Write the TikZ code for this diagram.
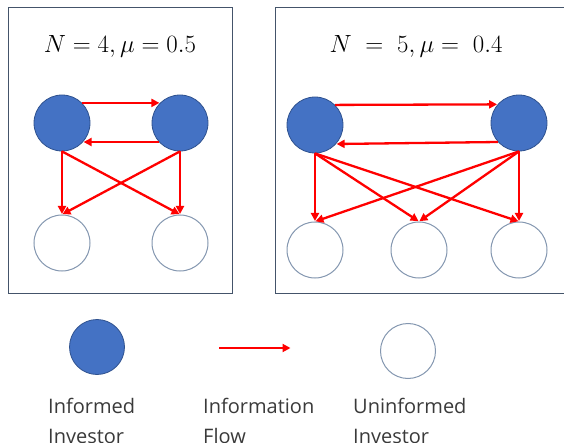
\documentclass[tikz,border=0pt]{standalone}
\usepackage{fontspec}
\newfontfamily\legendfont{Open Sans}
\usetikzlibrary{arrows.meta}

\definecolor{infofill}{HTML}{4472C4}
\definecolor{infoedge}{HTML}{2F528F}
\definecolor{uninfedge}{HTML}{8497B0}
\definecolor{paneledge}{HTML}{44546A}
\definecolor{flowred}{HTML}{FF0000}
\definecolor{legendtext}{HTML}{3A3A3A}

\tikzset{
  informed/.style={circle, minimum size=56pt, inner sep=0pt, fill=infofill, draw=infoedge, line width=0.8pt},
  uninformed/.style={circle, minimum size=56pt, inner sep=0pt, fill=white, draw=uninfedge, line width=1pt},
  flow/.style={draw=flowred, line width=2.3pt, -{Triangle[length=8pt,width=8pt]}, shorten >=0.5pt},
  panel/.style={draw=paneledge, line width=1pt},
  paneltitle/.style={font=\fontsize{23}{26}\selectfont},
  % the anchor sits on the baseline of the last line
  legendlabel/.style={anchor=base west, inner sep=0pt, text=legendtext, font=\legendfont\fontsize{20}{30}\selectfont, align=left}
}

\begin{document}
\begin{tikzpicture}[x=1pt, y=-1pt]
  \useasboundingbox (0,0) rectangle (564,443);
  \clip (0,0) rectangle (564,443);

  % ---- panel N = 4 ----
  \draw[panel] (8,8) rectangle (232,293);
  \node[paneltitle] (t1) at (120,46) {$N=4,\mu=0.5$};
  \node[informed]   (a1) at (62,123)  {};
  \node[informed]   (a2) at (180,123) {};
  \node[uninformed] (b1) at (62,243)  {};
  \node[uninformed] (b2) at (180,243) {};
  \draw[flow] (a1.45)   -- (a2.135);
  \draw[flow] (a2.-138) -- (a1.-42);
  \draw[flow] (a1.south) -- (b1.north);
  \draw[flow] (a1.south) -- (b2.north);
  \draw[flow] (a2.south) -- (b1.north);
  \draw[flow] (a2.south) -- (b2.north);

  % ---- panel N = 5 ----
  \draw[panel] (570,8) -- (275,8) -- (275,293) -- (570,293);
  \node[paneltitle] (t2) at (416,46) {$N\;=\;5,\mu=\;0.4$};
  \node[informed]   (c1) at (315,125) {};
  \node[informed]   (c2) at (519,123) {};
  \node[uninformed] (d1) at (315,250) {};
  \node[uninformed] (d2) at (419,250) {};
  \node[uninformed] (d3) at (519,250) {};
  \draw[flow] (c1.45)   -- (c2.139);
  \draw[flow] (c2.-138) -- (c1.-42);
  \foreach \s in {c1,c2}
    \foreach \t in {d1,d2,d3}
      \draw[flow] (\s.south) -- (\t.north);

  % ---- legend ----
  \node[informed, minimum size=55pt]   (li) at (97,347)  {};
  \coordinate (lf1) at (219,348);
  \coordinate (lf2) at (291,348);
  \draw[flow] (lf1) -- (lf2);
  \node[uninformed, minimum size=55pt] (lu) at (408,351) {};
  \node[legendlabel] (ti) at (48,443)  {Informed\\Investor};
  \node[legendlabel] (tf) at (203,443) {Information\\Flow};
  \node[legendlabel] (tu) at (353,443) {Uninformed\\Investor};
\end{tikzpicture}
\end{document}
